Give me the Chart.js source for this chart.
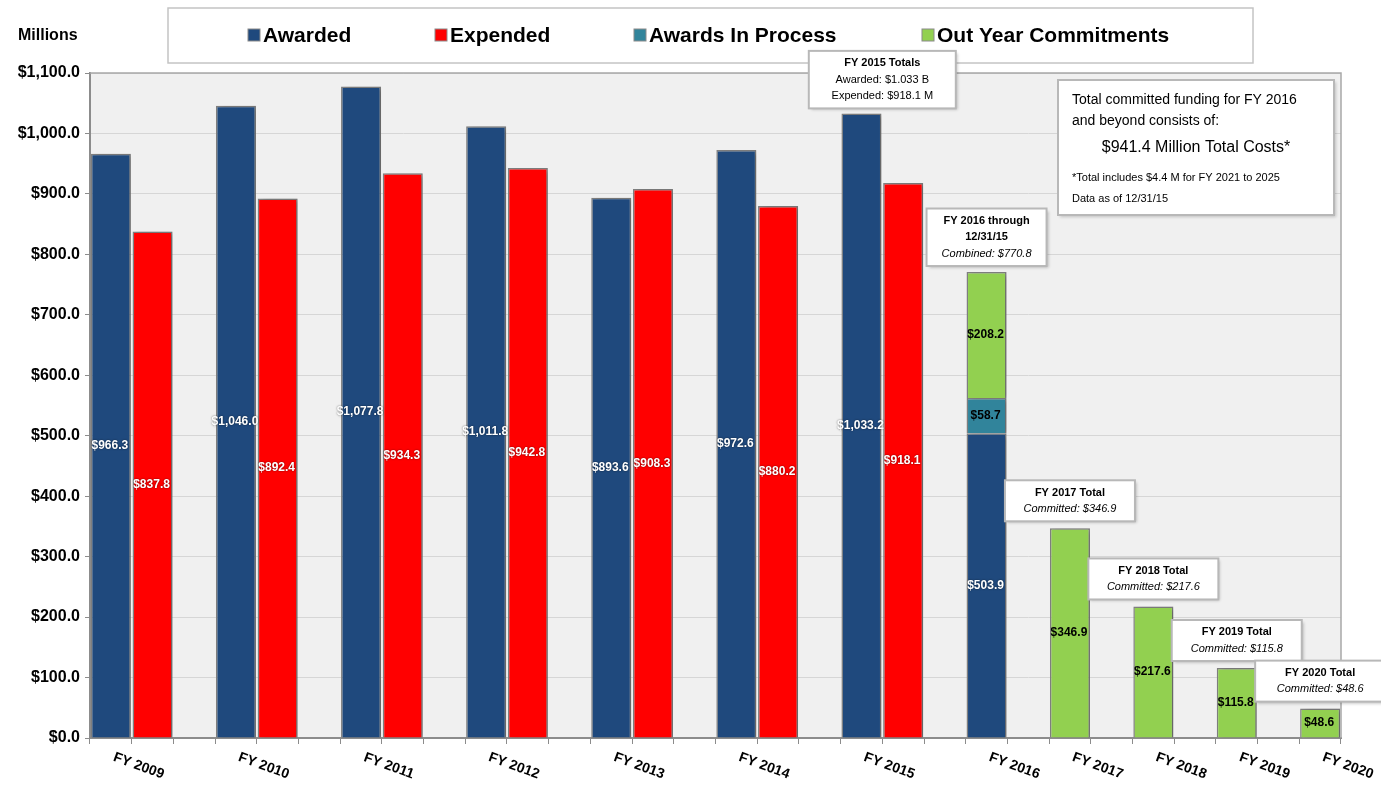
<!DOCTYPE html>
<html>
<head>
<meta charset="utf-8">
<title>Funding by fiscal year</title>
<script src="https://cdn.jsdelivr.net/npm/chart.js@4.4.1/dist/chart.umd.min.js"></script>
<style>
  html, body { margin: 0; padding: 0; background: #fff; }
  #wrap { position: relative; width: 1381px; height: 786px; }
</style>
</head>
<body>
<div id="wrap"><canvas id="fundingChart"></canvas></div>
<script>
const years     = ['FY 2009', 'FY 2010', 'FY 2011', 'FY 2012', 'FY 2013', 'FY 2014', 'FY 2015', 'FY 2016', 'FY 2017', 'FY 2018', 'FY 2019', 'FY 2020'];
const awarded   = [966.3, 1046.0, 1077.8, 1011.8, 893.6, 972.6, 1033.2, 503.9, null, null, null, null];
const expended  = [837.8, 892.4, 934.3, 942.8, 908.3, 880.2, 918.1, null, null, null, null, null];
const inProcess = [null, null, null, null, null, null, null, 58.7, null, null, null, null];
const outYear   = [null, null, null, null, null, null, null, 208.2, 346.9, 217.6, 115.8, 48.6];
const seriesNames  = ['Awarded', 'Expended', 'Awards In Process', 'Out Year Commitments'];
const seriesColors = ['#1f497d', '#ff0000', '#31849b', '#92d050'];
const noteText = ['Total committed funding for FY 2016', 'and beyond consists of:', '$941.4 Million Total Costs*',
                  '*Total includes $4.4 M for FY 2021 to 2025', 'Data as of 12/31/15'];

const FONT = '"Liberation Sans", Arial, sans-serif';

// paired years use 3 slots (awarded, expended, gap), the later years 2 (bar, gap)
const slotOf = [];
let nextSlot = 0;
years.forEach((y, i) => { slotOf.push(nextSlot); nextSlot += expended[i] != null ? 3 : 2; });
const slotCount = nextSlot - 1;

function toSlots(values, shift) {
    const arr = new Array(slotCount).fill(null);
    values.forEach((v, i) => { if (v != null) arr[slotOf[i] + shift] = v; });
    return arr;
}
const fmt = v => '$' + v.toLocaleString('en-US', { minimumFractionDigits: 1, maximumFractionDigits: 1 });

function box(ctx, cx, bottom, w, lines) {
    const lh = 16.5;
    const h = lines.length * lh + 8;
    const x = cx - w / 2, y = bottom - h;
    ctx.save();
    ctx.shadowColor = 'rgba(0,0,0,0.25)'; ctx.shadowBlur = 3; ctx.shadowOffsetX = 2; ctx.shadowOffsetY = 2;
    ctx.fillStyle = '#fff';
    ctx.fillRect(x, y, w, h);
    ctx.restore();
    ctx.strokeStyle = '#b8b8b8'; ctx.lineWidth = 2;
    ctx.strokeRect(x, y, w, h);
    ctx.fillStyle = '#000'; ctx.textAlign = 'center'; ctx.textBaseline = 'middle';
    lines.forEach((l, i) => { ctx.font = l[1]; ctx.fillText(l[0], cx, y + 4 + lh * (i + 0.5)); });
}

const plotBg = {
    id: 'plotBg',
    beforeDraw(chart) {
        const { ctx, chartArea: a } = chart;
        ctx.save();
        ctx.fillStyle = '#fff';
        ctx.fillRect(0, 0, chart.width, chart.height);
        ctx.fillStyle = '#f0f0f0';
        ctx.fillRect(a.left, a.top, a.right - a.left, a.bottom - a.top);
        ctx.restore();
    },
    beforeDatasetsDraw(chart) {
        const ctx = chart.ctx;
        ctx.save();
        ctx.shadowColor = 'rgba(0,0,0,0.22)'; ctx.shadowBlur = 5; ctx.shadowOffsetX = 4; ctx.shadowOffsetY = 1;
    },
    afterDatasetsDraw(chart) {
        const ctx = chart.ctx;
        ctx.restore();
        // value labels in the middle of each bar segment
        ctx.save();
        ctx.font = 'bold 12px ' + FONT;
        ctx.textAlign = 'center'; ctx.textBaseline = 'middle';
        chart.data.datasets.forEach((ds, di) => {
            chart.getDatasetMeta(di).data.forEach((el, i) => {
                const v = ds.data[i];
                if (v == null) return;
                const light = di < 2;
                ctx.fillStyle = light ? '#fff' : '#000';
                ctx.shadowColor = light ? 'rgba(0,0,0,0.6)' : 'rgba(0,0,0,0)';
                ctx.shadowBlur = 2;
                ctx.fillText(fmt(v), el.x - 1, (el.y + el.base) / 2);
            });
        });
        ctx.restore();
    },
    afterDraw(chart) {
        const { ctx, chartArea: a, scales: { x, y } } = chart;
        const slotW = (a.right - a.left) / slotCount;
        ctx.save();
        // plot frame
        ctx.strokeStyle = '#a8a8a8'; ctx.lineWidth = 1.5;
        ctx.beginPath();
        ctx.moveTo(a.left, a.top); ctx.lineTo(a.right, a.top); ctx.lineTo(a.right, a.bottom);
        ctx.stroke();

        // legend box
        ctx.fillStyle = '#fff';
        ctx.fillRect(168, 8, 1085, 55);
        ctx.strokeStyle = '#c4c4c4'; ctx.lineWidth = 1.5;
        ctx.strokeRect(168, 8, 1085, 55);
        const legendX = [248, 435, 634, 922];
        ctx.textBaseline = 'middle'; ctx.textAlign = 'left';
        ctx.font = 'bold 21px ' + FONT;
        seriesNames.forEach((n, i) => {
            ctx.fillStyle = seriesColors[i];
            ctx.fillRect(legendX[i], 29, 12, 12);
            ctx.strokeStyle = '#8a8a8a'; ctx.lineWidth = 1;
            ctx.strokeRect(legendX[i], 29, 12, 12);
            ctx.fillStyle = '#000';
            ctx.fillText(n, legendX[i] + 15, 36);
        });
        ctx.font = 'bold 16px ' + FONT;
        ctx.fillText('Millions', 18, 36);

        // x labels, tilted
        ctx.font = 'bold 14px ' + FONT;
        ctx.textAlign = 'center';
        years.forEach((label, i) => {
            const s = slotOf[i];
            const anchor = expended[i] != null
                ? (x.getPixelForValue(s) + x.getPixelForValue(s + 1)) / 2
                : x.getPixelForValue(s) + slotW / 2;
            ctx.save();
            ctx.translate(anchor + 7, a.bottom + 28);
            ctx.rotate(20 * Math.PI / 180);
            ctx.fillStyle = '#000';
            ctx.fillText(label, 0, 0);
            ctx.restore();
        });

        // call-out boxes
        const B = 'bold 11px ' + FONT, R = '11px ' + FONT, I = 'italic 11px ' + FONT;
        const i15 = 6, i16 = 7;
        box(ctx, (x.getPixelForValue(slotOf[i15]) + x.getPixelForValue(slotOf[i15] + 1)) / 2,
            y.getPixelForValue(awarded[i15]) - 5, 147,
            [['FY 2015 Totals', B], ['Awarded: $' + (awarded[i15] / 1000).toFixed(3) + ' B', R],
             ['Expended: $' + expended[i15].toFixed(1) + ' M', R]]);
        const combined = awarded[i16] + inProcess[i16] + outYear[i16];
        box(ctx, x.getPixelForValue(slotOf[i16]), y.getPixelForValue(combined) - 6, 120,
            [['FY 2016 through', B], ['12/31/15', B], ['Combined: ' + fmt(combined), I]]);
        for (let i = 8; i < years.length; i++) {
            box(ctx, x.getPixelForValue(slotOf[i]), y.getPixelForValue(outYear[i]) - 7, 130,
                [[years[i] + ' Total', B], ['Committed: ' + fmt(outYear[i]), I]]);
        }

        // note box
        const nx = a.right - 283, ny = a.top + 7;
        ctx.save();
        ctx.shadowColor = 'rgba(0,0,0,0.2)'; ctx.shadowBlur = 3; ctx.shadowOffsetX = 2; ctx.shadowOffsetY = 2;
        ctx.fillStyle = '#fff';
        ctx.fillRect(nx, ny, 276, 135);
        ctx.restore();
        ctx.strokeStyle = '#b8b8b8'; ctx.lineWidth = 2;
        ctx.strokeRect(nx, ny, 276, 135);
        ctx.fillStyle = '#000'; ctx.textAlign = 'left';
        ctx.font = '14px ' + FONT;
        ctx.fillText(noteText[0], nx + 14, ny + 20);
        ctx.fillText(noteText[1], nx + 14, ny + 41);
        ctx.font = '16px ' + FONT; ctx.textAlign = 'center';
        ctx.fillText(noteText[2], nx + 138, ny + 68);
        ctx.font = '11px ' + FONT; ctx.textAlign = 'left';
        ctx.fillText(noteText[3], nx + 14, ny + 98);
        ctx.fillText(noteText[4], nx + 14, ny + 119);
        ctx.restore();
    }
};

const ctx = document.getElementById('fundingChart').getContext('2d');
const datasetOf = (vals, shift, k) => ({
    label: seriesNames[k], data: toSlots(vals, shift),
    backgroundColor: seriesColors[k], borderColor: '#7f7f7f', borderWidth: 1.5,
    barPercentage: 0.96, categoryPercentage: 1
});
new Chart(ctx, {
    type: 'bar',
    data: {
        labels: new Array(slotCount).fill(''),
        datasets: [datasetOf(awarded, 0, 0), datasetOf(expended, 1, 1), datasetOf(inProcess, 0, 2), datasetOf(outYear, 0, 3)]
    },
    options: {
        responsive: true, maintainAspectRatio: false, animation: false, devicePixelRatio: 1,
        layout: { padding: { left: 0, top: 73, right: 40, bottom: 0 } },
        plugins: { legend: { display: false }, tooltip: { enabled: false } },
        scales: {
            x: {
                stacked: true, offset: true,
                ticks: { display: false, autoSkip: false },
                grid: { display: true, drawOnChartArea: false, drawTicks: true, tickLength: 6, color: '#8c8c8c', offset: true },
                border: { color: '#8c8c8c', width: 2 },
                afterFit(scale) { scale.height = 48; }
            },
            y: {
                stacked: true, min: 0, max: 1100,
                ticks: { stepSize: 100, callback: v => fmt(v), color: '#000', padding: 5,
                         font: { family: FONT, weight: 'bold', size: 16 } },
                grid: { color: '#d6d6d6', tickColor: '#8c8c8c', tickLength: 5 },
                border: { color: '#8c8c8c', width: 2 },
                afterFit(scale) { scale.width = 90; }
            }
        }
    },
    plugins: [plotBg]
});
</script>
</body>
</html>
